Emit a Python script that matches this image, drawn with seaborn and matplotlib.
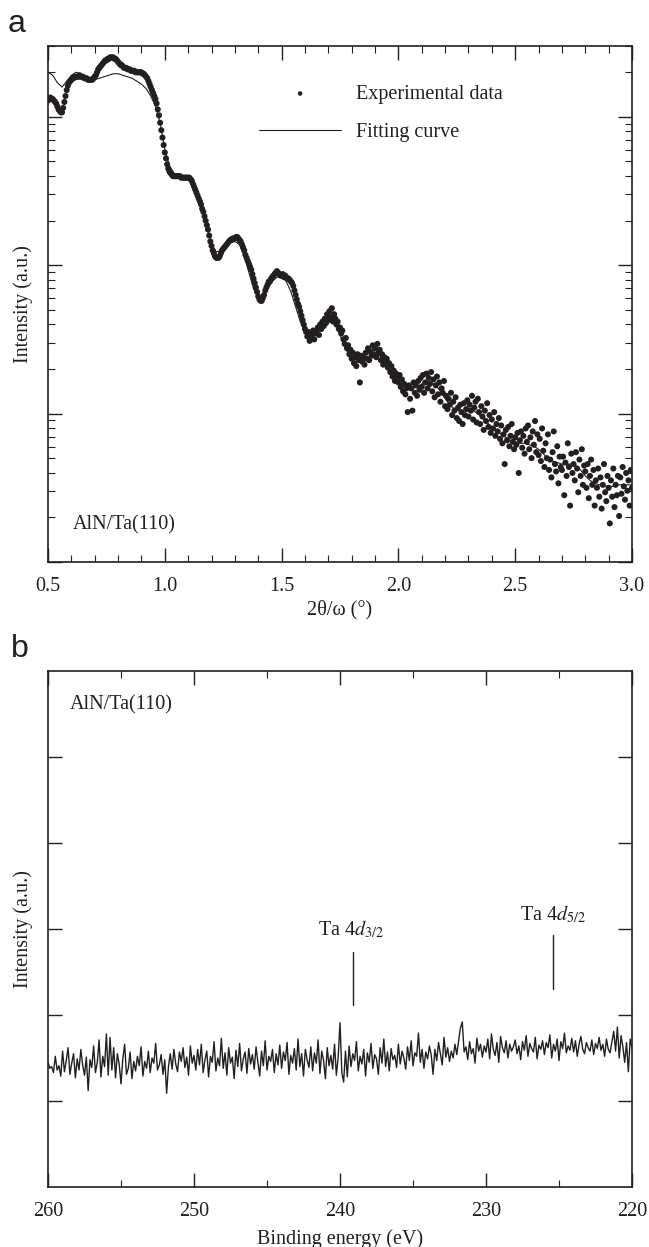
import numpy as np
import pandas as pd
import matplotlib
matplotlib.use("Agg")
import matplotlib.pyplot as plt
import seaborn as sns
from matplotlib.ticker import MultipleLocator, LogLocator, NullFormatter, FixedLocator

# ---------------- data ----------------
# (a) XRR: 2theta/omega grid (instrument sampling) and log10(intensity)
xrr_start, xrr_stop, xrr_step = 0.5, 3.0, 0.005
xrr_log_exp = [
    3.11, 3.12, 3.13, 3.12, 3.12, 3.11, 3.10, 3.09, 3.07, 3.05,
    3.04, 3.03, 3.03, 3.06, 3.10, 3.14, 3.18, 3.21, 3.23, 3.24,
    3.25, 3.26, 3.26, 3.27, 3.27, 3.27, 3.27, 3.28, 3.27, 3.27,
    3.27, 3.26, 3.26, 3.26, 3.25, 3.25, 3.25, 3.25, 3.25, 3.26,
    3.27, 3.28, 3.30, 3.32, 3.33, 3.34, 3.35, 3.36, 3.37, 3.38,
    3.38, 3.39, 3.39, 3.40, 3.40, 3.40, 3.40, 3.39, 3.39, 3.38,
    3.37, 3.36, 3.35, 3.35, 3.34, 3.33, 3.33, 3.33, 3.32, 3.32,
    3.32, 3.31, 3.31, 3.31, 3.31, 3.30, 3.30, 3.30, 3.30, 3.30,
    3.30, 3.29, 3.29, 3.28, 3.27, 3.26, 3.24, 3.22, 3.20, 3.18,
    3.16, 3.14, 3.12, 3.09, 3.05, 3.01, 2.96, 2.91, 2.86, 2.81,
    2.76, 2.72, 2.68, 2.65, 2.63, 2.62, 2.61, 2.60, 2.60, 2.60,
    2.60, 2.60, 2.60, 2.60, 2.59, 2.59, 2.59, 2.59, 2.59, 2.59,
    2.59, 2.59, 2.58, 2.57, 2.55, 2.53, 2.51, 2.49, 2.47, 2.45,
    2.43, 2.41, 2.38, 2.36, 2.33, 2.30, 2.27, 2.24, 2.20, 2.16,
    2.13, 2.10, 2.08, 2.06, 2.05, 2.05, 2.05, 2.06, 2.08, 2.10,
    2.11, 2.12, 2.13, 2.14, 2.15, 2.16, 2.17, 2.17, 2.18, 2.18,
    2.18, 2.19, 2.19, 2.18, 2.17, 2.16, 2.14, 2.12, 2.10, 2.07,
    2.05, 2.03, 2.01, 1.99, 1.97, 1.94, 1.91, 1.88, 1.85, 1.82,
    1.79, 1.77, 1.76, 1.76, 1.78, 1.80, 1.83, 1.85, 1.87, 1.89,
    1.89, 1.91, 1.92, 1.93, 1.94, 1.95, 1.96, 1.95, 1.94, 1.93,
    1.93, 1.94, 1.92, 1.93, 1.92, 1.91, 1.91, 1.90, 1.89, 1.88,
    1.86, 1.83, 1.80, 1.77, 1.74, 1.72, 1.69, 1.66, 1.63, 1.60,
    1.57, 1.55, 1.52, 1.55, 1.49, 1.53, 1.51, 1.56, 1.50, 1.54,
    1.55, 1.58, 1.53, 1.60, 1.57, 1.62, 1.59, 1.64, 1.61, 1.67,
    1.63, 1.69, 1.65, 1.71, 1.62, 1.67, 1.64, 1.60, 1.62, 1.57,
    1.58, 1.54, 1.56, 1.50, 1.47, 1.51, 1.44, 1.46, 1.40, 1.43,
    1.37, 1.41, 1.34, 1.38, 1.32, 1.40, 1.36, 1.21, 1.39, 1.35,
    1.38, 1.33, 1.41, 1.37, 1.44, 1.36, 1.42, 1.39, 1.46, 1.40,
    1.44, 1.38, 1.47, 1.41, 1.43, 1.36, 1.40, 1.33, 1.38, 1.35,
    1.37, 1.31, 1.34, 1.28, 1.32, 1.25, 1.29, 1.22, 1.27, 1.24,
    1.21, 1.26, 1.18, 1.23, 1.15, 1.20, 1.13, 1.17, 1.01, 1.19,
    1.10, 1.17, 1.02, 1.21, 1.14, 1.19, 1.12, 1.22, 1.16, 1.24,
    1.18, 1.26, 1.14, 1.21, 1.27, 1.17, 1.24, 1.20, 1.28, 1.15,
    1.23, 1.11, 1.19, 1.25, 1.13, 1.21, 1.08, 1.17, 1.14, 1.22,
    1.05, 1.12, 1.03, 1.10, 1.06, 1.14, 0.99, 1.08, 1.02, 1.11,
    0.97, 1.04, 0.95, 1.06, 1.01, 0.93, 1.07, 0.99, 1.03, 1.09,
    0.98, 1.06, 1.02, 1.12, 0.96, 1.04, 1.08, 0.94, 1.10, 1.01,
    0.93, 1.05, 0.98, 0.89, 1.02, 0.95, 1.07, 0.91, 0.99, 0.87,
    0.96, 0.90, 1.01, 0.85, 0.93, 0.88, 0.97, 0.83, 0.92, 0.80,
    0.86, 0.66, 0.89, 0.82, 0.91, 0.78, 0.85, 0.93, 0.81, 0.76,
    0.84, 0.79, 0.87, 0.60, 0.82, 0.88, 0.77, 0.85, 0.73, 0.90,
    0.81, 0.92, 0.76, 0.84, 0.70, 0.88, 0.79, 0.95, 0.74, 0.86,
    0.72, 0.83, 0.68, 0.90, 0.75, 0.64, 0.80, 0.70, 0.86, 0.62,
    0.69, 0.57, 0.74, 0.88, 0.66, 0.61, 0.78, 0.53, 0.71, 0.64,
    0.62, 0.71, 0.45, 0.67, 0.58, 0.80, 0.64, 0.38, 0.73, 0.60,
    0.66, 0.55, 0.74, 0.63, 0.47, 0.69, 0.58, 0.76, 0.52, 0.65,
    0.61, 0.50, 0.66, 0.43, 0.58, 0.69, 0.52, 0.62, 0.38, 0.55,
    0.50, 0.63, 0.44, 0.57, 0.36, 0.52, 0.66, 0.47, 0.41, 0.58,
    0.50, 0.26, 0.55, 0.44, 0.63, 0.37, 0.52, 0.45, 0.58, 0.31,
    0.57, 0.46, 0.64, 0.51, 0.42, 0.60, 0.48, 0.55, 0.38, 0.62,
    0.50,
]
fit_step = 0.02
xrr_log_fit = [
    3.30, 3.28, 3.23, 3.20, 3.24, 3.28, 3.30, 3.29, 3.27, 3.25,
    3.25, 3.26, 3.27, 3.28, 3.29, 3.29, 3.28, 3.27, 3.26, 3.24,
    3.22, 3.19, 3.14, 3.07, 2.96, 2.78, 2.67, 2.62, 2.60, 2.60,
    2.59, 2.57, 2.51, 2.40, 2.26, 2.14, 2.09, 2.10, 2.13, 2.15,
    2.16, 2.14, 2.06, 1.95, 1.84, 1.78, 1.79, 1.84, 1.89, 1.92,
    1.92, 1.89, 1.82, 1.72, 1.62, 1.55, 1.53, 1.55, 1.58, 1.61,
    1.63, 1.62, 1.57, 1.49, 1.42, 1.38, 1.37, 1.38, 1.40, 1.41,
    1.41, 1.39, 1.35, 1.30, 1.26, 1.22, 1.19, 1.17, 1.17, 1.18,
    1.20, 1.21, 1.21, 1.19, 1.15, 1.10, 1.06, 1.03, 1.02, 1.02,
    1.03, 1.02, 1.00, 0.97, 0.94, 0.91, 0.89, 0.86, 0.84, 0.82,
    0.81, 0.80, 0.80, 0.79, 0.78, 0.76, 0.73, 0.70, 0.68, 0.67,
    0.66, 0.66, 0.66, 0.65, 0.62, 0.58, 0.55, 0.53, 0.52, 0.51,
    0.51, 0.51, 0.52, 0.52, 0.52, 0.52,
]
xrr_sample = "AlN/Ta(110)"
xrr_legend = ["Experimental data", "Fitting curve"]

# (b) XPS: binding energy grid 260 -> 220 eV and counts (a.u.)
xps_start, xps_stop, xps_n = 260.0, 220.0, 321
xps_counts = [
    1.45, 1.38, 1.40, 1.33, 1.52, 1.36, 1.41, 1.29, 1.58, 1.34, 1.47, 1.62, 1.31, 1.44, 1.55, 1.27,
    1.49, 1.36, 1.60, 1.42, 1.30, 1.51, 1.12, 1.48, 1.39, 1.64, 1.33, 1.45, 1.71, 1.28, 1.52, 1.40,
    1.78, 1.30, 1.74, 1.36, 1.62, 1.27, 1.55, 1.43, 1.20, 1.49, 1.66, 1.31, 1.38, 1.57, 1.26, 1.46,
    1.35, 1.52, 1.41, 1.63, 1.29, 1.46, 1.38, 1.58, 1.33, 1.50, 1.44, 1.67, 1.36, 1.42, 1.54, 1.31,
    1.48, 1.09, 1.40, 1.55, 1.37, 1.60, 1.43, 1.34, 1.57, 1.46, 1.62, 1.39, 1.51, 1.30, 1.64, 1.44,
    1.53, 1.36, 1.60, 1.42, 1.66, 1.33, 1.48, 1.58, 1.28, 1.52, 1.45, 1.69, 1.35, 1.50, 1.41, 1.73,
    1.38, 1.56, 1.30, 1.62, 1.44, 1.51, 1.26, 1.59, 1.40, 1.67, 1.35, 1.49, 1.57, 1.32, 1.61, 1.43,
    1.54, 1.37, 1.63, 1.45, 1.29, 1.58, 1.41, 1.70, 1.36, 1.52, 1.46, 1.60, 1.33, 1.55, 1.42, 1.65,
    1.38, 1.57, 1.47, 1.68, 1.31, 1.53, 1.44, 1.61, 1.36, 1.72, 1.40, 1.55, 1.29, 1.60, 1.48, 1.39,
    1.63, 1.35, 1.56, 1.44, 1.71, 1.32, 1.58, 1.47, 1.26, 1.62, 1.41, 1.53, 1.37, 1.66, 1.30, 1.51,
    1.91, 1.33, 1.22, 1.58, 1.28, 1.64, 1.40, 1.55, 1.47, 1.69, 1.35, 1.52, 1.43, 1.60, 1.29, 1.56,
    1.45, 1.67, 1.38, 1.54, 1.49, 1.31, 1.62, 1.44, 1.72, 1.40, 1.57, 1.35, 1.61, 1.48, 1.53, 1.39,
    1.66, 1.43, 1.58, 1.50, 1.37, 1.63, 1.47, 1.70, 1.41, 1.56, 1.52, 1.79, 1.45, 1.60, 1.38, 1.57,
    1.49, 1.64, 1.53, 1.31, 1.60, 1.47, 1.68, 1.55, 1.42, 1.74, 1.51, 1.62, 1.46, 1.58, 1.50, 1.66,
    1.54, 1.70, 1.85, 1.92, 1.57, 1.63, 1.48, 1.69, 1.55, 1.61, 1.44, 1.73, 1.58, 1.66, 1.51, 1.64,
    1.57, 1.72, 1.49, 1.78, 1.60, 1.53, 1.68, 1.45, 1.75, 1.62, 1.56, 1.70, 1.50, 1.66, 1.58, 1.63,
    1.71, 1.55, 1.64, 1.48, 1.69, 1.59, 1.76, 1.52, 1.67, 1.61, 1.57, 1.74, 1.49, 1.65, 1.60, 1.70,
    1.54, 1.68, 1.62, 1.77, 1.50, 1.66, 1.58, 1.72, 1.47, 1.69, 1.61, 1.79, 1.56, 1.64, 1.59, 1.73,
    1.57, 1.70, 1.52, 1.66, 1.75, 1.60, 1.55, 1.68, 1.62, 1.58, 1.71, 1.54, 1.67, 1.61, 1.74, 1.59,
    1.66, 1.52, 1.72, 1.60, 1.56, 1.69, 1.81, 1.58, 1.86, 1.50, 1.76, 1.63, 1.45, 1.68, 1.34, 1.72,
    1.62,
]
peak_labels = [r"Ta 4$d_{3/2}$", r"Ta 4$d_{5/2}$"]
peak_energy = [239.1, 225.4]
peak_tick_low = [2.12, 2.30]
peak_tick_high = [2.73, 2.93]
peak_label_left = [241.5, 227.7]
peak_label_base = [2.93, 3.10]

# ---------------- style ----------------
sns.set_theme(style="ticks")
plt.rcParams["font.family"] = ["Liberation Serif", "DejaVu Serif"]
plt.rcParams["mathtext.fontset"] = "stix"
INK = "#231f20"
FS = 14.5

xrr_x = np.round(np.arange(len(xrr_log_exp)) * xrr_step + xrr_start, 4)
fit_x = np.round(np.arange(len(xrr_log_fit)) * fit_step + xrr_start, 4)
df_exp = pd.DataFrame({"angle": xrr_x, "intensity": np.power(10.0, xrr_log_exp)})
df_fit = pd.DataFrame({"angle": fit_x, "intensity": np.power(10.0, xrr_log_fit)})
df_xps = pd.DataFrame({"energy": np.linspace(xps_start, xps_stop, xps_n), "counts": xps_counts})

W, H = 649, 1247
fig = plt.figure(figsize=(W / 100, H / 100), dpi=100)
axA = fig.add_axes([48 / W, (H - 562) / H, 584 / W, 516 / H])
axB = fig.add_axes([48 / W, (H - 1187) / H, 584 / W, 516 / H])

# ---------------- panel a ----------------
sns.scatterplot(data=df_exp, x="angle", y="intensity", ax=axA, s=19, color=INK,
                edgecolor="none", linewidth=0, label=xrr_legend[0], zorder=2)
sns.lineplot(data=df_fit, x="angle", y="intensity", ax=axA, color=INK, lw=0.8,
             errorbar=None, label=xrr_legend[1], zorder=3)
axA.set_yscale("log")
axA.set_xlim(xrr_start, xrr_stop)
axA.set_ylim(1, 3000)
axA.xaxis.set_major_locator(MultipleLocator(0.5))
axA.xaxis.set_minor_locator(MultipleLocator(0.1))
axA.yaxis.set_major_locator(LogLocator(base=10))
axA.yaxis.set_minor_locator(LogLocator(base=10, subs=np.arange(2, 10)))
axA.yaxis.set_major_formatter(NullFormatter())
axA.yaxis.set_minor_formatter(NullFormatter())
axA.set_xticks([0.5, 1.0, 1.5, 2.0, 2.5, 3.0])
axA.set_xticklabels(["0.5", "1.0", "1.5", "2.0", "2.5", "3.0"])
axA.set_xlabel("2θ/ω (°)", fontsize=FS, color=INK)
axA.set_ylabel("Intensity (a.u.)", fontsize=FS, color=INK)
axA.xaxis.set_label_coords(0.5, -0.074)
axA.yaxis.set_label_coords(-0.025, 0.5)
axA.text(0.043, 0.072, xrr_sample, transform=axA.transAxes, fontsize=FS,
         color=INK, ha="left", va="center")
leg = axA.legend(loc="upper left", bbox_to_anchor=(0.361, 0.925), frameon=False,
                 handlelength=4.1, handletextpad=0.75, borderpad=0, borderaxespad=0,
                 labelspacing=0.95, fontsize=FS, markerscale=0.75)
for t in leg.get_texts():
    t.set_color(INK)

# ---------------- panel b ----------------
sns.lineplot(data=df_xps, x="energy", y="counts", ax=axB, color=INK, lw=1.0,
             errorbar=None)
axB.set_xlim(xps_start, xps_stop)
axB.set_ylim(0, 6)
axB.xaxis.set_major_locator(MultipleLocator(10))
axB.xaxis.set_minor_locator(MultipleLocator(5))
axB.yaxis.set_major_locator(FixedLocator([1, 2, 3, 4, 5]))
axB.yaxis.set_major_formatter(NullFormatter())
axB.set_xticks([260, 250, 240, 230, 220])
axB.set_xticklabels(["260", "250", "240", "230", "220"])
axB.set_xlabel("Binding energy (eV)", fontsize=FS, color=INK)
axB.set_ylabel("Intensity (a.u.)", fontsize=FS, color=INK)
axB.xaxis.set_label_coords(0.5, -0.082)
axB.yaxis.set_label_coords(-0.025, 0.5)
axB.text(0.038, 0.934, xrr_sample, transform=axB.transAxes, fontsize=FS,
         color=INK, ha="left", va="center")
for lab, e, lo, hi, lx, ly in zip(peak_labels, peak_energy, peak_tick_low,
                                  peak_tick_high, peak_label_left, peak_label_base):
    axB.plot([e, e], [lo, hi], color=INK, lw=1.0)
    axB.text(lx, ly, lab, fontsize=FS, color=INK, ha="left", va="baseline")

for ax in (axA, axB):
    for sp in ax.spines.values():
        sp.set_visible(True)
        sp.set_linewidth(1.2)
        sp.set_color(INK)
    ax.tick_params(which="both", direction="in", top=True, right=True,
                   colors=INK, labelcolor=INK, labelsize=FS, pad=10.5)
    ax.tick_params(which="major", length=10, width=1.0)
    ax.tick_params(which="minor", length=5, width=0.8)
    for lbl in ax.get_xticklabels():
        lbl.set_fontsize(FS)

fig.text(8 / W, 1 - 32 / H, "a", fontsize=23, family="Liberation Sans",
         color=INK, ha="left", va="baseline")
fig.text(11 / W, 1 - 657 / H, "b", fontsize=23, family="Liberation Sans",
         color=INK, ha="left", va="baseline")

fig.savefig("out.png", dpi=100, facecolor="white")
